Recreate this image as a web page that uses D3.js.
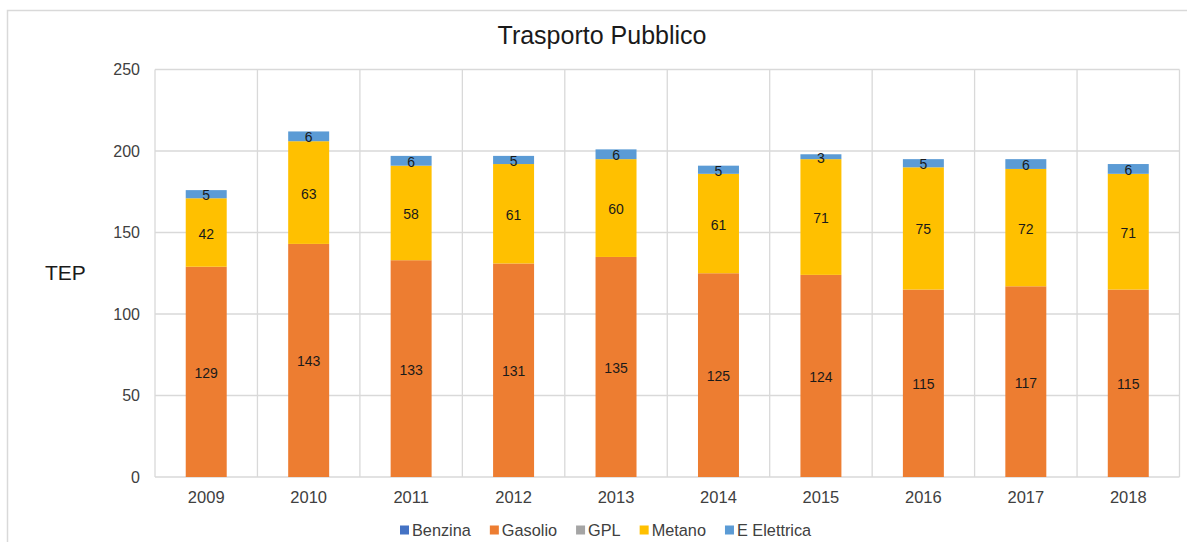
<!DOCTYPE html>
<html>
<head>
<meta charset="UTF-8">
<title>Trasporto Pubblico</title>
<script src="https://d3js.org/d3.v7.min.js"></script>
<style>
  body { margin: 0; background: #fff; }
  svg { display: block; font-family: 'Liberation Sans', Arial, sans-serif; }
</style>
</head>
<body>
<div id="chart"></div>
<script>
// dati (TEP)
const anni = ['2009', '2010', '2011', '2012', '2013', '2014', '2015', '2016', '2017', '2018'];
const benzina = [0, 0, 0, 0, 0, 0, 0, 0, 0, 0];
const gasolio = [129, 143, 133, 131, 135, 125, 124, 115, 117, 115];
const gpl = [0, 0, 0, 0, 0, 0, 0, 0, 0, 0];
const metano = [42, 63, 58, 61, 60, 61, 71, 75, 72, 71];
const elettrica = [5, 6, 6, 5, 6, 5, 3, 5, 6, 6];
const yTicks = [0, 50, 100, 150, 200, 250];

const serie = [
  { key: 'Benzina', values: benzina, color: '#4472C4' },
  { key: 'Gasolio', values: gasolio, color: '#ED7D31' },
  { key: 'GPL', values: gpl, color: '#A5A5A5' },
  { key: 'Metano', values: metano, color: '#FFC000' },
  { key: 'E Elettrica', values: elettrica, color: '#5B9BD5' }
];

const width = 1187, height = 542;
const plot = { left: 155, right: 1179.5, top: 69.5, bottom: 477 };

const svg = d3.select('#chart').append('svg')
  .attr('width', width)
  .attr('height', height);

// bordo esterno
svg.append('rect')
  .attr('x', 7.5).attr('y', 10.5)
  .attr('width', 1200).attr('height', 600)
  .attr('fill', 'none')
  .attr('stroke', '#d9d9d9')
  .attr('stroke-width', 1.5);

const x = d3.scaleBand()
  .domain(anni)
  .range([plot.left, plot.right])
  .paddingInner(0.6)
  .paddingOuter(0.3);

const y = d3.scaleLinear()
  .domain([0, 250])
  .range([plot.bottom, plot.top]);

// griglia
const grid = svg.append('g').attr('stroke', '#d9d9d9').attr('stroke-width', 1.3);
grid.selectAll('line.h')
  .data(yTicks)
  .enter().append('line')
  .attr('x1', plot.left).attr('x2', plot.right)
  .attr('y1', d => y(d)).attr('y2', d => y(d));

const step = (plot.right - plot.left) / anni.length;
grid.selectAll('line.v')
  .data(d3.range(anni.length + 1))
  .enter().append('line')
  .attr('x1', i => plot.left + i * step).attr('x2', i => plot.left + i * step)
  .attr('y1', plot.top).attr('y2', plot.bottom);

// stack
const rows = anni.map((a, i) => {
  const r = { anno: a };
  serie.forEach(s => { r[s.key] = s.values[i]; });
  return r;
});
const stacked = d3.stack().keys(serie.map(s => s.key))(rows);

const layers = svg.append('g').selectAll('g')
  .data(stacked)
  .enter().append('g')
  .attr('fill', (d, i) => serie[i].color);

layers.selectAll('rect')
  .data(d => d.filter(p => p[1] - p[0] > 0))
  .enter().append('rect')
  .attr('x', d => x(d.data.anno))
  .attr('width', x.bandwidth())
  .attr('y', d => y(d[1]))
  .attr('height', d => y(d[0]) - y(d[1]));

// etichette dati
layers.selectAll('text')
  .data(d => d.filter(p => p[1] - p[0] > 0))
  .enter().append('text')
  .attr('x', d => x(d.data.anno) + x.bandwidth() / 2)
  .attr('y', d => (y(d[0]) + y(d[1])) / 2 + 1)
  .attr('text-anchor', 'middle')
  .attr('dominant-baseline', 'central')
  .attr('fill', '#1a1a1a')
  .attr('font-size', 14)
  .text(d => d[1] - d[0]);

// asse y
svg.append('g').selectAll('text')
  .data(yTicks)
  .enter().append('text')
  .attr('x', 140)
  .attr('y', d => y(d))
  .attr('text-anchor', 'end')
  .attr('dominant-baseline', 'central')
  .attr('font-size', 16)
  .attr('fill', '#404040')
  .text(d => d);

// asse x
svg.append('g').selectAll('text')
  .data(anni)
  .enter().append('text')
  .attr('x', d => x(d) + x.bandwidth() / 2)
  .attr('y', 497)
  .attr('text-anchor', 'middle')
  .attr('dominant-baseline', 'central')
  .attr('font-size', 16.5)
  .attr('fill', '#404040')
  .text(d => d);

// titolo
svg.append('text')
  .attr('x', 602).attr('y', 35)
  .attr('text-anchor', 'middle')
  .attr('dominant-baseline', 'central')
  .attr('font-size', 25)
  .attr('fill', '#1a1a1a')
  .text('Trasporto Pubblico');

svg.append('text')
  .attr('x', 45).attr('y', 272)
  .attr('dominant-baseline', 'central')
  .attr('font-size', 21)
  .attr('fill', '#1a1a1a')
  .text('TEP');

// legenda
const legend = svg.append('g');
let lx = 400;
serie.forEach(s => {
  const g = legend.append('g');
  g.append('rect')
    .attr('x', lx).attr('y', 525.5)
    .attr('width', 9).attr('height', 9)
    .attr('fill', s.color);
  const t = g.append('text')
    .attr('x', lx + 12).attr('y', 530)
    .attr('dominant-baseline', 'central')
    .attr('font-size', 16.3)
    .attr('fill', '#404040')
    .text(s.key);
  lx += 12 + t.node().getComputedTextLength() + 19;
});
</script>
</body>
</html>
